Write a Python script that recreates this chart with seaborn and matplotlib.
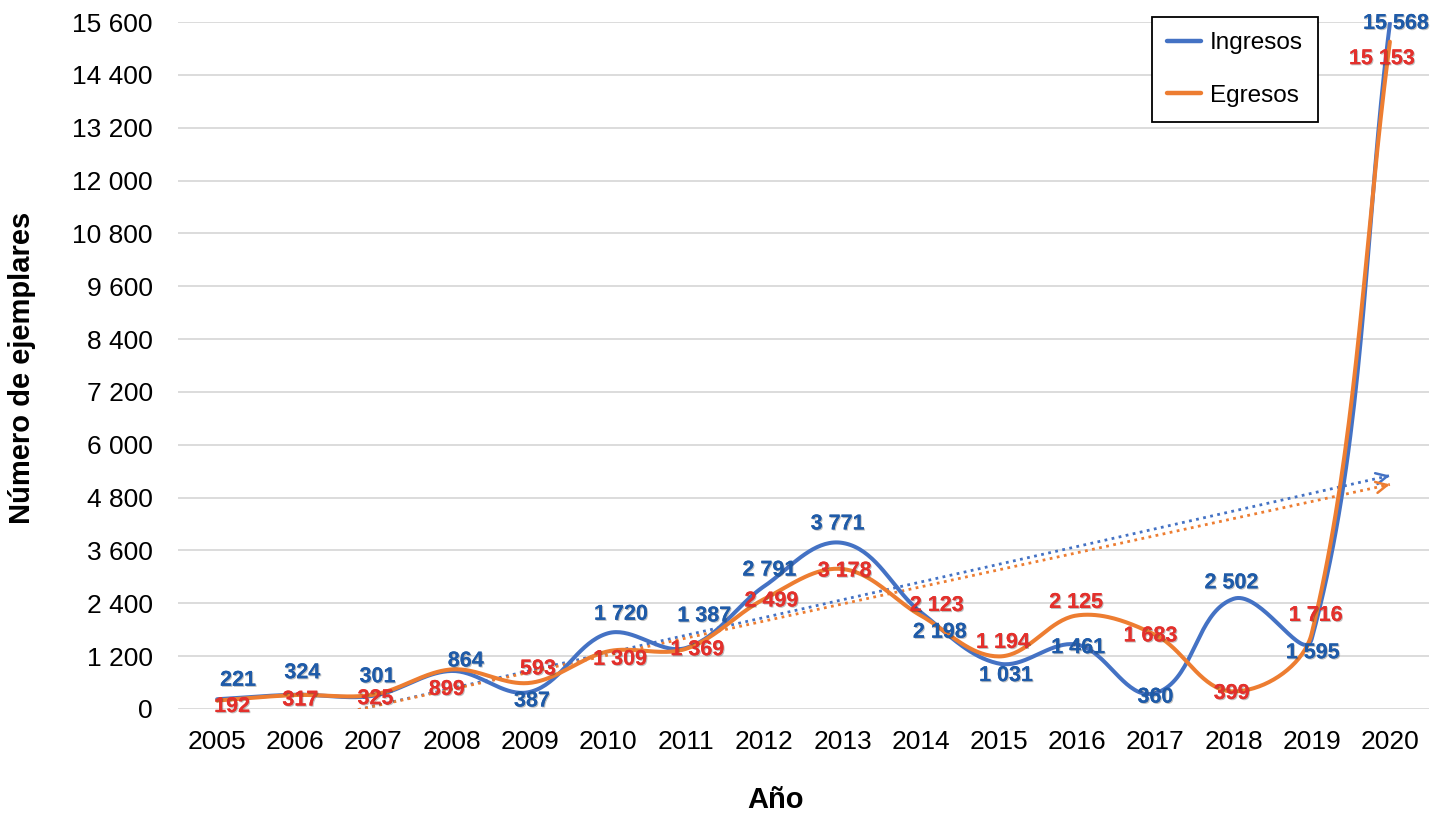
import numpy as np
import pandas as pd
import matplotlib
matplotlib.use("Agg")
import matplotlib.pyplot as plt
import matplotlib.patheffects as pe
from matplotlib.lines import Line2D
import seaborn as sns

# ---------------- data ----------------
years = list(range(2005, 2021))
ingresos = [221, 324, 301, 864, 387, 1720, 1387, 2791, 3771, 2198, 1031, 1461, 360, 2502, 1595, 15568]
egresos = [192, 317, 325, 899, 593, 1309, 1369, 2499, 3178, 2123, 1194, 2125, 1683, 399, 1716, 15153]
series_names = ["Ingresos", "Egresos"]
yticks = list(range(0, 15601, 1200))
x_title = "Año"
y_title = "Número de ejemplares"

# ---------------- style ----------------
line_colors = {"Ingresos": "#4472C4", "Egresos": "#ED7D31"}
label_colors = {"Ingresos": "#1F5BA8", "Egresos": "#E3302C"}
# label offsets in pixels (dx, dy with dy positive = up)
label_offsets = {
    "Ingresos": [(21, 19), (7, 22), (4, 19), (14, 10), (2, -9), (13, 19), (18, 32), (5, 16),
                 (-5, 19), (19, -20), (7, -12), (1, -3), (0, -4), (-2, 16), (1, -14), (6, 0)],
    "Egresos": [(15, -6), (5, -5), (2, -4), (-5, -20), (8, 14), (12, -8), (11, -1), (7, -2),
                (2, -2), (16, 10), (4, 14), (-1, 13), (-5, -1), (-2, -2), (4, 18), (-8, -17)],
}

sns.set_theme(style="white")
plt.rcParams["font.family"] = ["Liberation Sans", "DejaVu Sans"]
plt.rcParams["text.color"] = "black"

W, H = 1437, 818
fig = plt.figure(figsize=(W / 100, H / 100), dpi=100)
ax = fig.add_axes([178 / W, 1 - 709 / H, (1429 - 178) / W, (709 - 22) / H])
ax.set_xlim(2004.5, 2020.5)
ax.set_ylim(0, 15600)


def smooth(xs, ys, k=1 / 3, n=40):
    """Excel-like smoothed line: Bezier segments computed in screen space."""
    pts = ax.transData.transform(np.column_stack([xs, ys]).astype(float))
    m = len(pts)
    out = []
    t = np.linspace(0, 1, n)[:, None]
    for i in range(m - 1):
        p0, p1 = pts[i], pts[i + 1]
        pm, pp = pts[max(i - 1, 0)], pts[min(i + 2, m - 1)]
        d0 = p1 - pm
        d0 = d0 / np.linalg.norm(d0)
        d1 = pp - p0
        d1 = d1 / np.linalg.norm(d1)
        L = np.linalg.norm(p1 - p0)
        c1 = p0 + d0 * L * k
        c2 = p1 - d1 * L * k
        seg = ((1 - t) ** 3) * p0 + 3 * ((1 - t) ** 2) * t * c1 + 3 * (1 - t) * t ** 2 * c2 + t ** 3 * p1
        out.append(seg if i == 0 else seg[1:])
    out = np.vstack(out)
    return ax.transData.inverted().transform(out)


values = {"Ingresos": ingresos, "Egresos": egresos}

frames = []
for name in series_names:
    sm = smooth(years, values[name])
    frames.append(pd.DataFrame({"x": sm[:, 0], "y": sm[:, 1], "serie": name}))
df = pd.concat(frames, ignore_index=True)

# trend lines (linear fit)
for name in series_names:
    c = line_colors[name]
    slope, icpt = np.polyfit(years, values[name], 1)
    tx = np.array([years[0], years[-1]], dtype=float)
    ty = slope * tx + icpt
    ax.plot(tx, ty, ls=(0, (1, 1.6)), lw=2.0, color=c, zorder=2)
    xe = years[-1]
    xs0 = xe - 0.05
    ax.annotate("", xy=(xe, slope * xe + icpt), xytext=(xs0, slope * xs0 + icpt),
                arrowprops=dict(arrowstyle="->", color=c, lw=1.8, mutation_scale=20,
                                shrinkA=0, shrinkB=0), zorder=2)

sns.lineplot(data=df, x="x", y="y", hue="serie", palette=line_colors, sort=False,
             estimator=None, units="serie", lw=2.9, legend=False, ax=ax, zorder=3)

# data labels
shadow = [pe.withSimplePatchShadow(offset=(0.8, -0.8), shadow_rgbFace="black", alpha=0.25),
          pe.Normal()]
for name in series_names:
    for yr, v, (dx, dy) in zip(years, values[name], label_offsets[name]):
        ax.annotate(f"{v:,}".replace(",", " "), xy=(yr, v), xytext=(dx, dy),
                    textcoords="offset pixels", ha="center", va="center",
                    fontsize=15.5, fontweight="bold", color=label_colors[name], zorder=5,
                    annotation_clip=False, path_effects=shadow)

# axes styling
ax.set_xticks(years)
ax.set_xticklabels([str(y) for y in years])
ax.set_yticks(yticks)
ax.set_yticklabels([f"{v:,}".replace(",", " ") for v in yticks])
ax.tick_params(axis="x", labelsize=19, length=0, pad=15, colors="black")
ax.tick_params(axis="y", labelsize=19, length=0, pad=18, colors="black")
ax.grid(axis="y", color="#D9D9D9", lw=1.3)
ax.grid(axis="x", visible=False)
for s in ax.spines.values():
    s.set_visible(False)
ax.set_xlabel("")
ax.set_ylabel("")
ax.set_axisbelow(True)

fig.text(22 / W, 1 - 368 / H, y_title, rotation=90, ha="center", va="center",
         fontsize=21, fontweight="bold", color="black")
fig.text(776 / W, 1 - 800 / H, x_title, ha="center", va="center",
         fontsize=21, fontweight="bold", color="black")

handles = [Line2D([], [], color=line_colors[n], lw=3.2) for n in series_names]
leg = ax.legend(handles, series_names, loc="upper right", bbox_to_anchor=(0.911, 1.007),
                borderaxespad=0, fontsize=17.5, frameon=True, fancybox=False,
                edgecolor="black", framealpha=1, handlelength=1.4, handletextpad=0.35,
                labelspacing=1.25, borderpad=0.62, labelcolor="black")
leg.get_frame().set_linewidth(1.3)

fig.savefig("out.png", dpi=100)
